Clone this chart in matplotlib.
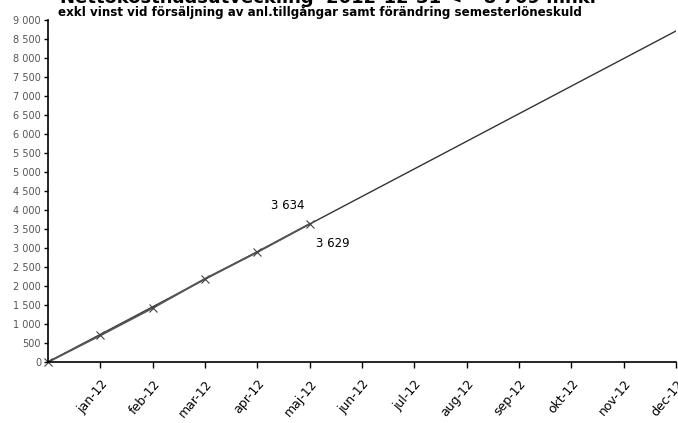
import matplotlib
matplotlib.use('Agg')
import matplotlib.pyplot as plt
from matplotlib.ticker import FuncFormatter

# months on the x axis (index 0 = start of year)
months = ["jan-12", "feb-12", "mar-12", "apr-12", "maj-12", "jun-12",
          "jul-12", "aug-12", "sep-12", "okt-12", "nov-12", "dec-12"]

# outcome so far (start + jan..maj)
utfall = [0, 700, 1420, 2190, 2890, 3634]
# forecast to year end
prognos = [0, 726, 1452, 2177, 2903, 3629, 4355, 5080, 5806, 6532, 7258, 7983, 8709]

fig = plt.figure(figsize=(6.78, 4.23), dpi=100)
ax = fig.add_axes([0.0708, 0.1442, 0.926, 0.8085])

ax.plot(range(len(prognos)), prognos, color="#333333", lw=1.0)
ax.plot(range(len(utfall)), utfall, color="#555555", lw=1.4,
        marker="x", markersize=6, markeredgewidth=0.8, markeredgecolor="#444444",
        clip_on=False)

ax.text(4.58, 3950, "3 634", fontsize=8.5, ha="center", va="bottom")
ax.text(5.45, 3280, "3 629", fontsize=8.5, ha="center", va="top")

ax.set_xlim(0, 12)
ax.set_ylim(0, 9000)
ax.set_yticks(range(0, 9001, 500))
ax.yaxis.set_major_formatter(FuncFormatter(lambda v, p: f"{int(v):,}".replace(",", " ")))
ax.set_xticks(range(1, 13))
ax.set_xticklabels(months, rotation=50, ha="right", rotation_mode="anchor", fontsize=9)
ax.tick_params(axis="y", labelsize=7, labelcolor="#555555", length=3, width=1, pad=2)
ax.tick_params(axis="x", length=4, width=1, pad=7)

for s in ["top", "right"]:
    ax.spines[s].set_visible(False)
for s in ["left", "bottom"]:
    ax.spines[s].set_linewidth(1.2)

fig.text(0.088, 0.992, "Nettokostnadsutveckling  2012-12-31 <= 8 709 mnkr",
         fontsize=13, fontweight="bold", ha="left", va="baseline")
fig.text(0.085, 0.972, "exkl vinst vid försäljning av anl.tillgångar samt förändring semesterlöneskuld",
         fontsize=8.6, fontweight="bold", ha="left", va="center")

fig.savefig("out.png", dpi=100)
